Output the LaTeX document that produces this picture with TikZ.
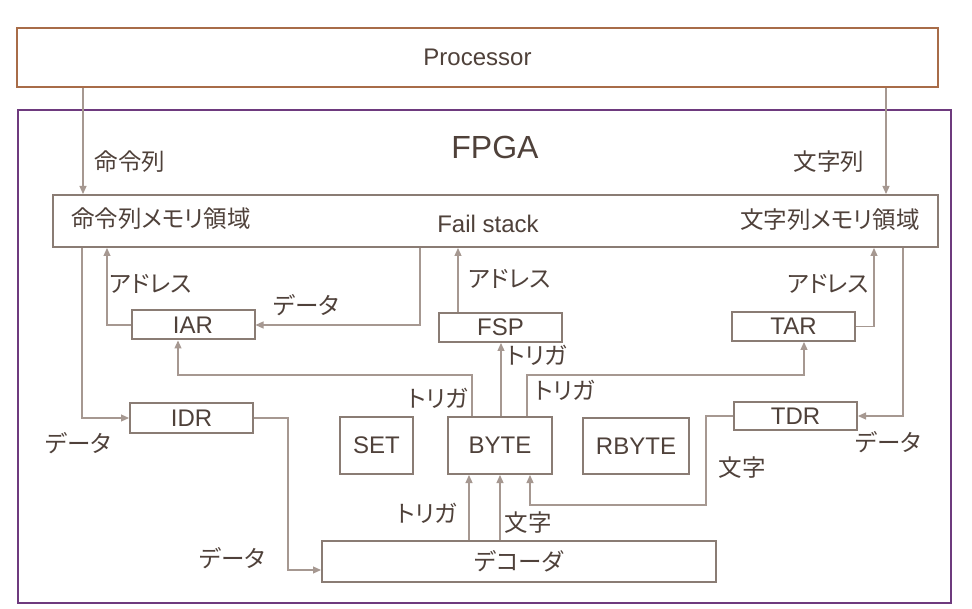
\documentclass[tikz,border=0pt]{standalone}
\usepackage{fontspec}
\setmainfont{Liberation Sans}
\newfontfamily\jp{Noto Sans CJK JP}[RawFeature=+palt]
\usetikzlibrary{arrows.meta}
\definecolor{txt}{HTML}{4F413A}
\definecolor{bx}{HTML}{8A7C74}
\definecolor{ln}{HTML}{A69891}
\definecolor{procc}{HTML}{A86C48}
\definecolor{fpgac}{HTML}{6E3A7E}
\begin{document}
\begin{tikzpicture}[x=1pt,y=-1pt,
 box/.style={draw=bx,line width=2pt,inner sep=0pt,text=txt,font=\fontsize{24}{24}\selectfont},
 conn/.style={draw=ln,line width=1.2pt},
 arr/.style={conn,-{Triangle[length=8pt,width=7pt]}},
 lbl/.style={text=txt,inner sep=0pt,font=\jp\fontsize{23.5}{23.5}\selectfont},
 lat/.style={text=txt,inner sep=0pt,font=\fontsize{24}{24}\selectfont},
]
\useasboundingbox[fill=white] (0,0) rectangle (972,609);
\node[box,draw=procc,minimum width=921,minimum height=59] (proc) at (477.5,57.5) {Processor};
\node[box,draw=fpgac,minimum width=933,minimum height=493] (fpga) at (484.5,356.5) {};
\node[lat,font=\fontsize{32}{32}\selectfont] (fpgal) at (495,147) {FPGA};
\node[box,minimum width=885,minimum height=52] (mem) at (495.5,221) {};
\node[lbl] (meml) at (161,219) {命令列メモリ領域};
\node[lat] (fs) at (488,224) {Fail stack};
\node[lbl] (memr) at (830,220) {文字列メモリ領域};
\node[box,minimum width=123,minimum height=29] (iar) at (193,325) {IAR};
\node[box,minimum width=123,minimum height=29] (fsp) at (500.5,327.5) {FSP};
\node[box,minimum width=123,minimum height=29] (tar) at (793.5,326.5) {TAR};
\node[box,minimum width=123,minimum height=30] (idr) at (191.5,418) {IDR};
\node[box,minimum width=123,minimum height=28] (tdr) at (795.5,416) {TDR};
\node[box,minimum width=73,minimum height=57] (set) at (376.5,445.5) {SET};
\node[box,minimum width=104,minimum height=57] (byte) at (500,445.5) {BYTE};
\node[box,minimum width=106,minimum height=56] (rbyte) at (636,446) {RBYTE};
\node[box,minimum width=394,minimum height=41,font=\jp\fontsize{23.5}{23.5}\selectfont] (dec) at (519,561.5) {デコーダ};
% connectors
\draw[arr] (proc.south -| 83,0) -- (mem.north -| 83,0);
\draw[arr] (proc.south -| 886,0) -- (mem.north -| 886,0);
\draw[arr] (iar.west) -| (mem.south -| 107,0);
\draw[arr] (mem.south -| 420,0) |- (iar.east);
\draw[arr] (fsp.north -| 458,0) -- (mem.south -| 458,0);
\draw[arr] (tar.east) -| (mem.south -| 874,0);
\draw[arr] (mem.south -| 82,0) |- (idr.west);
\draw[arr] (mem.south -| 903,0) |- (tdr.east);
\draw[arr] (byte.north -| 501,0) -- (fsp.south -| 501,0);
\draw[arr] (byte.north -| 472,0) -- (472,375) -| (iar.south -| 178,0);
\draw[arr] (byte.north -| 527,0) -- (527,375) -| (tar.south -| 804,0);
\draw[arr] (idr.east) -| (288,570) -- (dec.west |- 0,570);
\draw[arr] (dec.north -| 469,0) -- (byte.south -| 469,0);
\draw[arr] (dec.north -| 500,0) -- (byte.south -| 500,0);
\draw[arr] (tdr.west) -| (706,505) -| (byte.south -| 530,0);
% labels
\node[lbl] (l1) at (130,162) {命令列};
\node[lbl] (l2) at (829,162) {文字列};
\node[lbl] (l3) at (151,284) {アドレス};
\node[lbl] (l4) at (306,305) {データ};
\node[lbl] (l5) at (510,279) {アドレス};
\node[lbl] (l6) at (828,284) {アドレス};
\node[lbl] (l7) at (78,443) {データ};
\node[lbl] (l8) at (537,355) {トリガ};
\node[lbl] (l9) at (438,398) {トリガ};
\node[lbl] (l10) at (565,390) {トリガ};
\node[lbl] (l11) at (427,513) {トリガ};
\node[lbl] (l12) at (528,523) {文字};
\node[lbl] (l13) at (232,558) {データ};
\node[lbl] (l14) at (888,442) {データ};
\node[lbl] (l15) at (742,468) {文字};
\end{tikzpicture}
\end{document}
